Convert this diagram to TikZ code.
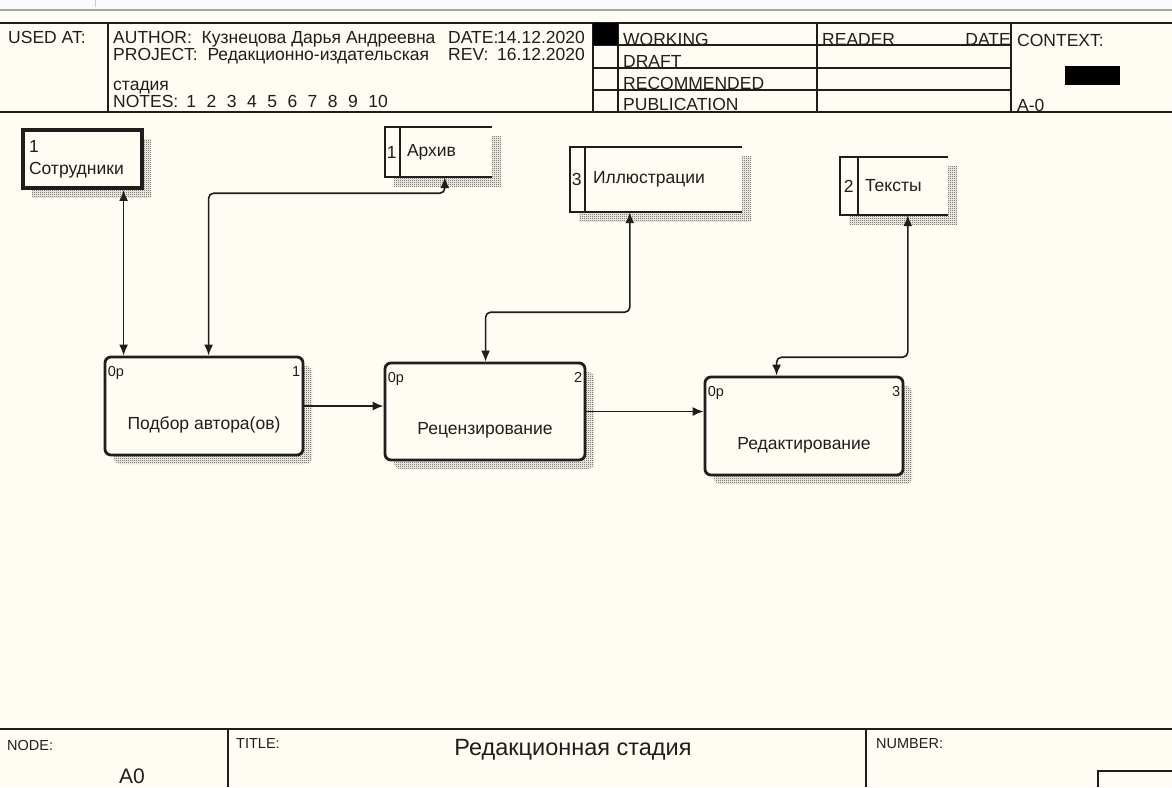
\documentclass[tikz,border=0pt]{standalone}
\usepackage{fontspec}
\setmainfont{Liberation Sans}
\usetikzlibrary{arrows.meta,calc,patterns,shadows}
\definecolor{paper}{RGB}{255,252,243}
\definecolor{ink}{RGB}{30,30,30}
\pgfdeclarepatternformonly{idefhatch}{\pgfpointorigin}{\pgfpoint{2pt}{2pt}}{\pgfpoint{2pt}{2pt}}{%
  \pgfpathrectangle{\pgfpointorigin}{\pgfpoint{1pt}{1pt}}%
  \pgfpathrectangle{\pgfpoint{1pt}{1pt}}{\pgfpoint{1pt}{1pt}}%
  \pgfusepath{fill}}
\tikzset{
  hatch/.style={general shadow={shadow xshift=9pt,shadow yshift=-9pt,pattern=idefhatch,pattern color=black!75}},
  act/.style={draw=ink,line width=2.8pt,rounded corners=6pt,fill=paper,inner sep=0pt,hatch},
  store/.style={fill=paper,inner sep=0pt,hatch},
  tunnel/.style={draw=ink,line width=3.8pt,fill=paper,minimum width=119pt,minimum height=58pt,
    align=left,text width=107pt,inner xsep=6pt,text=ink,font=\fontsize{17.5}{22}\selectfont,hatch},
  txt/.style={inner sep=0pt,anchor=base west,text=ink,font=\fontsize{17.5}{20}\selectfont},
  small/.style={inner sep=0pt,text=ink,font=\fontsize{14.5}{16}\selectfont},
  frame/.style={draw=ink,line width=1.3pt},
  flow/.style={draw=ink,line width=1.6pt,rounded corners=5pt,<->},
}
\newcommand{\gap}{\hspace{10.5pt}}
\begin{document}
\begin{tikzpicture}[x=1pt,y=-1pt,>={Latex[length=11pt,width=9pt]}]
  \fill[paper] (0,0) rectangle (1172,787);
  \useasboundingbox (0,0) rectangle (1172,787);
  % window edge
  \fill[gray!4] (0,0) rectangle (1172,9);
  \draw[gray!70,line width=2pt] (0,10) -- (1172,10);
  \draw[gray!40] (95,0) -- (95,7);

  % header
  \draw[frame] (0,23) -- (1172,23) (0,112) -- (1172,112);
  \foreach \x in {108,593,618,817,1011}
    \draw[frame] (\x,23) -- (\x,112);
  \foreach \y in {45,68,90}
    \draw[frame] (593,\y) -- (1011,\y);
  \fill[black] (593,23) rectangle (618,45);
  \fill[black] (1065,66) rectangle (1120,85);

  \node[txt] (usedat) at (8,43) {USED AT:};
  \node[txt] (author) at (113,43) {AUTHOR:\ \ Кузнецова Дарья Андреевна};
  \node[txt] (date) at (448,43) {DATE:};
  \node[txt,anchor=base east] (dateval) at (585,43) {14.12.2020};
  \node[txt] (project) at (113,60) {PROJECT:\ \ Редакционно-издательская};
  \node[txt] (rev) at (448,60) {REV:};
  \node[txt,anchor=base east] (revval) at (585,60) {16.12.2020};
  \node[txt] (stage) at (113,90) {стадия};
  \node[txt] (notes) at (113,107) {NOTES:\hspace{8pt}1\gap2\gap3\gap4\gap5\gap6\gap7\gap8\gap9\gap10};
  \node[txt] (working) at (623,45) {WORKING};
  \node[txt] (draft) at (623,67) {DRAFT};
  \node[txt] (recom) at (623,89) {RECOMMENDED};
  \node[txt] (public) at (623,110) {PUBLICATION};
  \node[txt] (reader) at (822,45) {READER};
  \node[txt,anchor=base east] (rdate) at (1011,45) {DATE};
  \node[txt] (context) at (1017,46) {CONTEXT:};
  \node[txt] (ctxnode) at (1017,111) {A-0};

  % activities
  \node[act,minimum width=198pt,minimum height=98pt] (A1) at (204,406) {};
  \node[act,minimum width=200pt,minimum height=97pt] (A2) at (485,411.5) {};
  \node[act,minimum width=198pt,minimum height=98pt] (A3) at (804,426) {};
  \node[txt,anchor=center] (A1name) at ($(A1.center)+(0,19)$) {Подбор автора(ов)};
  \node[txt,anchor=center] (A2name) at ($(A2.center)+(0,19)$) {Рецензирование};
  \node[txt,anchor=center] (A3name) at ($(A3.center)+(0,19)$) {Редактирование};
  \node[small,anchor=base west] (A1cost) at ($(A1.north west)+(4,21)$) {0р};
  \node[small,anchor=base west] (A2cost) at ($(A2.north west)+(4,21)$) {0р};
  \node[small,anchor=base west] (A3cost) at ($(A3.north west)+(4,21)$) {0р};
  \node[small,anchor=base east] (A1num) at ($(A1.north east)+(-4,21)$) {1};
  \node[small,anchor=base east] (A2num) at ($(A2.north east)+(-4,21)$) {2};
  \node[small,anchor=base east] (A3num) at ($(A3.north east)+(-4,21)$) {3};

  % external references
  \node[tunnel] (R1) at (82.5,159) {1\\Сотрудники};
  \node[store,minimum width=107pt,minimum height=50pt] (D1) at (438.5,152) {};
  \node[store,minimum width=172pt,minimum height=65pt] (D2) at (656,179.5) {};
  \node[store,minimum width=108pt,minimum height=58pt] (D3) at (894,186) {};
  \foreach \n/\w in {D1/15,D2/15,D3/18} {
    \draw[ink,line width=2.5pt] (\n.north east) -- (\n.north west) -- (\n.south west) -- (\n.south east);
    \draw[ink,line width=2.5pt] ($(\n.north west)+(\w,0)$) -- ($(\n.south west)+(\w,0)$);
  }
  \node[txt,anchor=center] (D1num) at ($(D1.west)+(7,0)$) {1};
  \node[txt,anchor=center] (D2num) at ($(D2.west)+(7,0)$) {3};
  \node[txt,anchor=center] (D3num) at ($(D3.west)+(9,0)$) {2};
  \node[txt,anchor=west] (D1name) at ($(D1.west)+(22,0)$) {Архив};
  \node[txt,anchor=west] (D2name) at ($(D2.west)+(23,0)$) {Иллюстрации};
  \node[txt,anchor=west] (D3name) at ($(D3.west)+(25,0)$) {Тексты};

  % arrows
  \coordinate (p1) at ($(A1.north west)+(20,0)$);
  \coordinate (p2) at ($(A1.north west)+(105,0)$);
  \coordinate (p3) at ($(A2.north west)+(102,0)$);
  \coordinate (p4) at ($(A3.north west)+(73,0)$);
  \coordinate (q1) at ($(D1.south west)+(60,0)$);
  \coordinate (q2) at ($(D2.south west)+(60,0)$);
  \coordinate (q3) at ($(D3.south west)+(68,0)$);
  \draw[flow] (R1.south -| p1) -- (p1);
  \draw[flow] (q1) -- ++(0,16) -| (p2);
  \draw[flow] (q2) -- ++(0,100) -| (p3);
  \draw[flow] (q3) -- ++(0,142) -| (p4);
  \draw[flow,->] (A1.east) -- (A1.east -| A2.west);
  \draw[flow,->] (A2.east) -- (A2.east -| A3.west);

  % footer
  \draw[frame] (0,729) -- (1172,729) (228,729) -- (228,787) (866,729) -- (866,787);
  \draw[frame] (1098,787) |- (1172,771);
  \node[small,anchor=base west] (nodelbl) at (7,750) {NODE:};
  \node[small,anchor=base west] (titlelbl) at (236,748) {TITLE:};
  \node[small,anchor=base west] (numlbl) at (876,748) {NUMBER:};
  \node[inner sep=0pt,text=ink,font=\fontsize{21}{24}\selectfont] (nodeval) at (132,776) {A0};
  \node[inner sep=0pt,text=ink,font=\fontsize{23.5}{26}\selectfont] (title) at (573,750) {Редакционная стадия};
\end{tikzpicture}
\end{document}
